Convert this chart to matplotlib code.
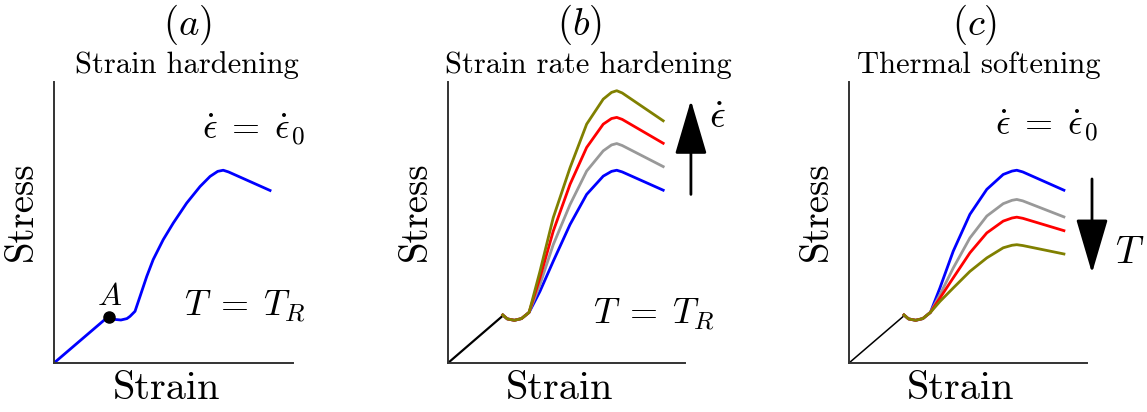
import matplotlib
matplotlib.use("Agg")
import matplotlib.pyplot as plt

plt.rcParams['font.family'] = 'cmr10'
plt.rcParams['mathtext.fontset'] = 'cm'
plt.rcParams['axes.unicode_minus'] = False

# elastic part (origin -> yield point A)
elastic_x = [0.0, 2.31]
elastic_y = [0.0, 1.68]

# (a) strain hardening, single curve after point A
a_x = [2.31, 2.55, 2.80, 3.05, 3.18, 3.39, 3.60, 3.88, 4.15, 4.57, 4.99, 5.55,
       6.11, 6.53, 6.85, 7.08, 7.30, 9.04]
a_y = [1.63, 1.55, 1.53, 1.58, 1.66, 1.84, 2.37, 3.08, 3.68, 4.39, 4.98, 5.69,
       6.28, 6.64, 6.82, 6.86, 6.80, 6.14]

# common dip after yield for (b) and (c)
dip_x = [2.31, 2.50, 2.80, 3.10, 3.42]
dip_y = [1.71, 1.57, 1.52, 1.58, 1.80]

# (b) strain rate hardening: blue, gray, red, olive
b_x = [3.88, 4.44, 5.15, 5.85, 6.55, 6.90, 7.12, 7.35, 9.08]
b_blue = [2.55, 3.62, 4.93, 6.00, 6.65, 6.82, 6.86, 6.80, 6.15]
b_gray = [2.79, 4.21, 5.64, 6.83, 7.55, 7.76, 7.81, 7.74, 6.99]
b_red = [3.03, 4.69, 6.36, 7.67, 8.50, 8.70, 8.74, 8.67, 7.82]
b_olive = [3.26, 5.17, 6.95, 8.50, 9.39, 9.63, 9.69, 9.61, 8.62]

# (c) thermal softening: blue, gray, red, olive
c_x = [3.82, 4.38, 5.08, 5.79, 6.48, 6.85, 7.05, 7.30, 9.03]
c_blue = [2.67, 3.98, 5.29, 6.18, 6.71, 6.83, 6.86, 6.80, 6.15]
c_gray = [2.43, 3.38, 4.45, 5.23, 5.67, 5.79, 5.82, 5.77, 5.20]
c_red = [2.31, 3.03, 3.92, 4.63, 5.05, 5.16, 5.19, 5.15, 4.71]
c_olive = [2.19, 2.67, 3.26, 3.74, 4.10, 4.19, 4.21, 4.18, 3.88]

colors = ['#0000ff', '#999999', '#ff0000', '#808000']

fig = plt.figure(figsize=(11.47, 4.12), dpi=100)
W, H = 1147, 412
lefts = [54, 448, 849]
widths = [239, 237, 238]
axes = [fig.add_axes([l / W, 49 / H, w / W, 281 / H]) for l, w in zip(lefts, widths)]

for ax in axes:
    ax.set_xlim(0, 10)
    ax.set_ylim(0, 10)
    ax.set_xticks([])
    ax.set_yticks([])
    ax.spines['top'].set_visible(False)
    ax.spines['right'].set_visible(False)
    for s in ['left', 'bottom']:
        ax.spines[s].set_color('#333333')
        ax.spines[s].set_linewidth(1.4)
    ax.text(0.47, -0.03, 'Strain', transform=ax.transAxes, fontsize=29,
            ha='center', va='top')
    ax.text(-0.06, 0.54, 'Stress', transform=ax.transAxes, fontsize=28,
            ha='right', va='center', rotation=90)

eq_rate = r'$\dot{\epsilon}\;=\;\dot{\epsilon}_0$'
eq_temp = r'$T\;=\;T_R$'

# panel a
ax = axes[0]
ax.plot(elastic_x, elastic_y, color=colors[0], lw=2, solid_capstyle='round')
ax.plot(a_x, a_y, color=colors[0], lw=2, solid_joinstyle='round')
ax.plot([2.31], [1.63], 'o', color='black', ms=8)
ax.text(2.31, 1.85, '$A$', fontsize=23, ha='center', va='bottom')
ax.text(1.05, 0.83, eq_rate, transform=ax.transAxes,
        fontsize=26, ha='right', va='center')
ax.text(1.055, 0.20, eq_temp, transform=ax.transAxes,
        fontsize=26, ha='right', va='center')

# panel b
ax = axes[1]
ax.plot(elastic_x, elastic_y, color='black', lw=1.6)
for ys, c in zip([b_blue, b_gray, b_red, b_olive], colors):
    ax.plot(dip_x + b_x, dip_y + ys, color=c, lw=2, solid_joinstyle='round')
ax.annotate('', xy=(1.025, 0.935), xytext=(1.025, 0.60), xycoords='axes fraction',
            arrowprops=dict(arrowstyle='-|>,head_length=1.7,head_width=0.5',
                            mutation_scale=20, color='black', lw=2,
                            shrinkA=0, shrinkB=0))
ax.text(1.135, 0.87, r'$\dot{\epsilon}$', transform=ax.transAxes,
        fontsize=28, ha='center', va='center')
ax.text(1.125, 0.17, eq_temp, transform=ax.transAxes,
        fontsize=26, ha='right', va='center')

# panel c
ax = axes[2]
ax.plot(elastic_x, elastic_y, color='black', lw=1.1)
for ys, c in zip([c_blue, c_gray, c_red, c_olive], colors):
    ax.plot(dip_x + c_x, dip_y + ys, color=c, lw=2, solid_joinstyle='round')
ax.annotate('', xy=(1.021, 0.32), xytext=(1.021, 0.655), xycoords='axes fraction',
            arrowprops=dict(arrowstyle='-|>,head_length=1.7,head_width=0.5',
                            mutation_scale=20, color='black', lw=2,
                            shrinkA=0, shrinkB=0))
ax.text(1.18, 0.39, r'$T$', transform=ax.transAxes,
        fontsize=28, ha='center', va='center')
ax.text(1.046, 0.843, eq_rate, transform=ax.transAxes,
        fontsize=26, ha='right', va='center')

# titles
titles = ['$(a)$', '$(b)$', '$(c)$']
subtitles = ['Strain hardening', 'Strain rate hardening', 'Thermal softening']
title_x = [187, 580, 975]
sub_x = [187, 588, 979]
for t, s, tx, sx in zip(titles, subtitles, title_x, sub_x):
    fig.text(tx / W, 1 - 25 / H, t, fontsize=28, ha='center', va='center')
    fig.text(sx / W, 1 - 65 / H, s, fontsize=22, ha='center', va='center')

fig.savefig('out.png', dpi=100)
